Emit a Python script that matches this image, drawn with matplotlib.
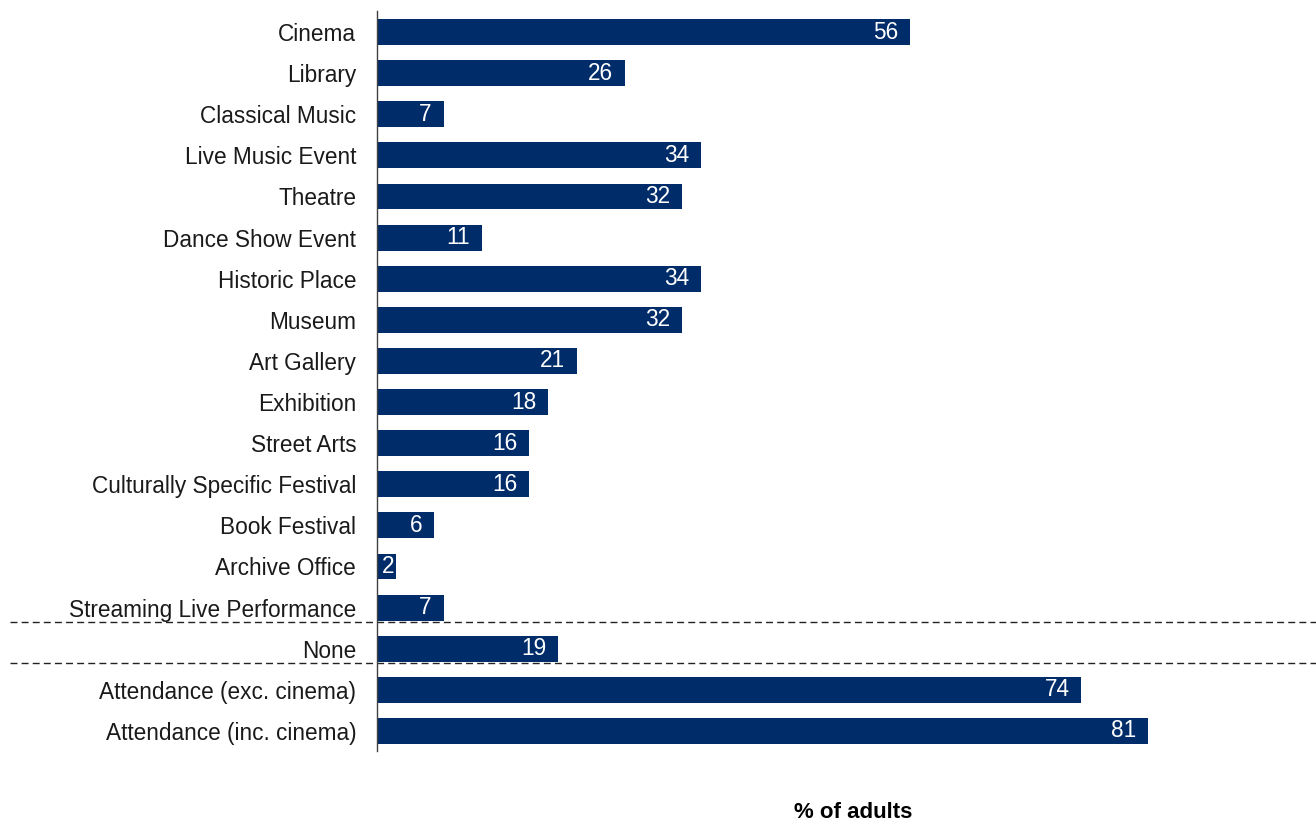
import matplotlib.pyplot as plt
import matplotlib as mpl

# ---------------------------------------------------------
# DATA
# ---------------------------------------------------------
categories = ['Cinema', 'Library', 'Classical Music', 'Live Music Event',
              'Theatre', 'Dance Show Event', 'Historic Place', 'Museum',
              'Art Gallery', 'Exhibition', 'Street Arts',
              'Culturally Specific Festival', 'Book Festival',
              'Archive Office', 'Streaming Live Performance', 'None',
              'Attendance (exc. cinema)', 'Attendance (inc. cinema)']
values = [56, 26, 7, 34, 32, 11, 34, 32, 21, 18, 16, 16, 6, 2, 7, 19, 74, 81]

# dashed separators sit between these groups of rows
separators = [14.35, 15.35]

# ---------------------------------------------------------
# PLOT
# ---------------------------------------------------------
mpl.rcParams['font.family'] = ['Liberation Sans', 'DejaVu Sans']

W, H = 1316, 824
fig = plt.figure(figsize=(W / 100, H / 100), dpi=100)
ax = fig.add_axes([377 / W, 1 - 751.5 / H, (W - 377) / W, (751.5 - 11.5) / H])

bar_color = '#002D6A'
ypos = list(range(len(categories)))
ax.barh(ypos, values, height=0.63, color=bar_color)

ax.set_ylim(len(categories) - 0.5, -0.5)
ax.set_xlim(0, (W - 377) / 9.52)

ax.set_yticks(ypos)
ax.set_yticklabels(categories, fontsize=16.3, color='#1a1a1a')
ax.tick_params(axis='y', length=0, pad=15)
ax.set_xticks([])

for side in ['top', 'right', 'bottom']:
    ax.spines[side].set_visible(False)
ax.spines['left'].set_color('#404040')
ax.spines['left'].set_linewidth(1)

# value labels inside the bar ends (centred when the bar is too short)
for y, v in zip(ypos, values):
    if v < 3:
        ax.annotate(str(v), xy=(v / 2, y), xytext=(1, 0), textcoords='offset points',
                    ha='center', va='center', color='white', fontsize=16.3)
    else:
        ax.annotate(str(v), xy=(v, y), xytext=(-8.5, 0), textcoords='offset points',
                    ha='right', va='center', color='white', fontsize=16.3)

# dashed separators run across the whole figure
left_frac = (10 - 377) / (W - 377)
for s in separators:
    ax.axhline(s, xmin=left_frac, xmax=1.0, color='#222222', lw=1,
               linestyle=(0, (5, 3)), clip_on=False)

fig.text(853 / W, 1 - 813 / H, '% of adults', ha='center', va='center',
         fontsize=16, fontweight='bold')

fig.savefig('out.png', dpi=100)
